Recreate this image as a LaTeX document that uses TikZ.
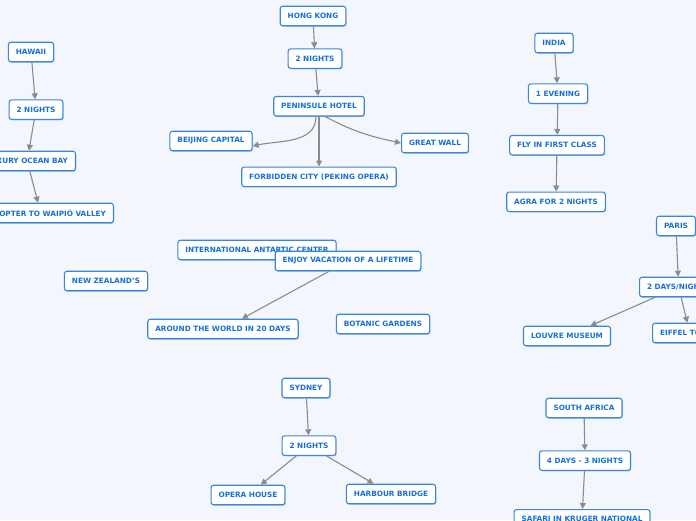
\documentclass[tikz,border=0pt]{standalone}
\usepackage{fontspec}
\setmainfont{DejaVu Sans}
\usetikzlibrary{positioning,arrows.meta,shadows}
\definecolor{pagebg}{HTML}{F3F6FD}
\definecolor{boxline}{HTML}{3A86D8}
\definecolor{boxtext}{HTML}{1570D8}
\definecolor{linkgray}{HTML}{8C8C8C}

\begin{document}
\begin{tikzpicture}[x=1pt,y=-1pt,node distance=20pt,
    box/.style={draw=boxline,fill=white,rounded corners=2.5pt,line width=1.1pt,
        minimum height=19.5pt,inner xsep=7.5pt,inner ysep=2pt,text=boxtext,
        font=\fontsize{7.3}{8.5}\selectfont\bfseries,
        drop shadow={shadow xshift=0.7pt,shadow yshift=-0.9pt,fill=boxline,opacity=0.5}},
    link/.style={draw=linkgray,line width=1.1pt,-{Triangle[length=6pt,width=6pt]}}]
    \fill[pagebg] (0,0) rectangle (696,520);
    \useasboundingbox (0,0) rectangle (696,520);

    % Hong Kong
    \node[box] (hk) at (313,16) {HONG KONG};
    \node[box,below=22pt of hk,xshift=2pt] (hknights) {2 NIGHTS};
    \node[box,below=27pt of hknights,xshift=4pt] (hotel) {PENINSULE HOTEL};
    \node[box] (beijing) at (211,141) {BEIJING CAPITAL};
    \node[box] (wall) at (435,143) {GREAT WALL};
    \node[box,below=50pt of hotel] (forbidden) {FORBIDDEN CITY (PEKING OPERA)};
    \draw[link] (hk) -- (hknights);
    \draw[link] (hknights) -- (hotel);
    \draw[link] ([xshift=-3pt]hotel.south) to[out=-90,in=12] ([yshift=-5pt]beijing.east);
    \draw[link] (hotel) -- (forbidden);
    \draw[link] ([xshift=6pt]hotel.south) to[out=-28,in=168] (wall.west);

    % Hawaii
    \node[box] (hawaii) at (31,52) {HAWAII};
    \node[box,below=37pt of hawaii,xshift=5pt] (hwnights) {2 NIGHTS};
    \node[box,anchor=east] (oceanbay) at (76,161) {LUXURY OCEAN BAY};
    \node[box,anchor=east] (heli) at (114,213) {HELICOPTER TO WAIPIÓ VALLEY};
    \draw[link] (hawaii) -- (hwnights);
    \draw[link] (hwnights) -- (oceanbay);
    \draw[link] (oceanbay) -- (heli);

    % India
    \node[box] (india) at (554,43) {INDIA};
    \node[box,below=30pt of india,xshift=4pt] (evening) {1 EVENING};
    \node[box,below=31pt of evening,xshift=-1pt] (firstclass) {FLY IN FIRST CLASS};
    \node[box,below=36pt of firstclass,xshift=-1pt] (agra) {AGRA FOR 2 NIGHTS};
    \draw[link] (india) -- (evening);
    \draw[link] (evening) -- (firstclass);
    \draw[link] (firstclass) -- (agra);

    % Paris
    \node[box] (paris) at (676,226) {PARIS};
    \node[box,anchor=west] (pdays) at (639,287) {2 DAYS/NIGHTS};
    \node[box] (louvre) at (567,336) {LOUVRE MUSEUM};
    \node[box,anchor=west] (eiffel) at (652,333) {EIFFEL TOWER};
    \draw[link] (paris) -- (pdays);
    \draw[link] (pdays) -- (louvre);
    \draw[link] (pdays) -- (eiffel);

    % centre
    \node[box] (antartic) at (257,250) {INTERNATIONAL ANTARTIC CENTER};
    \node[box] (enjoy) at (348,261) {ENJOY VACATION OF A LIFETIME};
    \node[box] (newzealand) at (106,281) {NEW ZEALAND'S};
    \node[box] (world) at (223,329) {AROUND THE WORLD IN 20 DAYS};
    \node[box] (botanic) at (383,324) {BOTANIC GARDENS};
    \draw[link] (enjoy) -- (world);

    % Sydney
    \node[box] (sydney) at (306,388) {SYDNEY};
    \node[box,below=37pt of sydney,xshift=3pt] (synights) {2 NIGHTS};
    \node[box] (opera) at (248,495) {OPERA HOUSE};
    \node[box] (harbour) at (391,494) {HARBOUR BRIDGE};
    \draw[link] (sydney) -- (synights);
    \draw[link] (synights) -- (opera);
    \draw[link] (synights) -- (harbour);

    % South Africa
    \node[box] (safrica) at (584,408) {SOUTH AFRICA};
    \node[box,below=32pt of safrica,xshift=1pt] (sadays) {4 DAYS - 3 NIGHTS};
    \node[box,anchor=north] (kruger) at (582,509) {SAFARI IN KRUGER NATIONAL};
    \draw[link] (safrica) -- (sadays);
    \draw[link] (sadays) -- (kruger);
\end{tikzpicture}
\end{document}
